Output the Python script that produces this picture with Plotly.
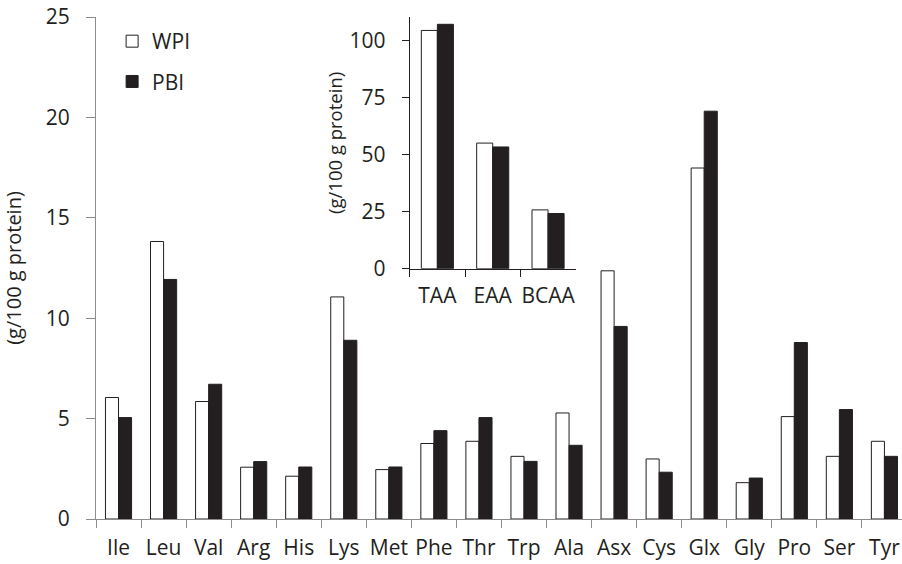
import plotly.graph_objects as go

amino = ["Ile", "Leu", "Val", "Arg", "His", "Lys", "Met", "Phe", "Thr", "Trp",
         "Ala", "Asx", "Cys", "Glx", "Gly", "Pro", "Ser", "Tyr"]
wpi = [6.05, 13.82, 5.85, 2.58, 2.13, 11.06, 2.46, 3.76, 3.87, 3.12,
       5.28, 12.36, 2.99, 17.48, 1.81, 5.10, 3.12, 3.87]
pbi = [5.05, 11.93, 6.71, 2.86, 2.59, 8.90, 2.59, 4.40, 5.05, 2.87,
       3.67, 9.59, 2.33, 20.31, 2.04, 8.79, 5.45, 3.12]

groups = ["TAA", "EAA", "BCAA"]
wpi_tot = [104.5, 55.1, 25.8]
pbi_tot = [107.2, 53.4, 24.2]

DARK = "#231f20"
GREY = "#8c8c8c"
FONT = "Open Sans"

fig = go.Figure()
fig.add_trace(go.Bar(x=amino, y=wpi, name="WPI", legendgroup="a",
                     marker=dict(color="white", line=dict(color=DARK, width=1))))
fig.add_trace(go.Bar(x=amino, y=pbi, name="PBI", legendgroup="b",
                     marker=dict(color=DARK, line=dict(color=DARK, width=1))))
fig.add_trace(go.Bar(x=groups, y=wpi_tot, showlegend=False, xaxis="x2", yaxis="y2",
                     marker=dict(color="white", line=dict(color=DARK, width=1))))
fig.add_trace(go.Bar(x=groups, y=pbi_tot, showlegend=False, xaxis="x2", yaxis="y2",
                     marker=dict(color=DARK, line=dict(color=DARK, width=1))))

fig.update_layout(
    width=902, height=564,
    margin=dict(l=96, r=0, t=17, b=45, autoexpand=False),
    paper_bgcolor="white", plot_bgcolor="rgba(0,0,0,0)",
    font=dict(family=FONT, size=21, color="#231f20"),
    barmode="group", bargap=0.42, bargroupgap=0,
    showlegend=True,
    legend=dict(x=0.02, y=0.992, xanchor="left", yanchor="top",
                bgcolor="rgba(0,0,0,0)", font=dict(size=21),
                traceorder="grouped", tracegroupgap=10,
                itemwidth=30),
    xaxis=dict(range=[-0.5, 17.39], showline=True, linecolor=GREY, linewidth=1,
               ticks="outside", tickson="boundaries", ticklen=8, tickcolor=GREY,
               showgrid=False, zeroline=False, tickfont=dict(size=21),
               tickangle=0, ticklabelstandoff=10, automargin=False,
               ticklabeloverflow="allow"),
    yaxis=dict(range=[0, 25], tickvals=[0, 5, 10, 15, 20, 25], showline=True,
               linecolor=GREY, linewidth=1, ticks="outside", ticklen=9,
               tickcolor=GREY, showgrid=False, zeroline=False,
               tickfont=dict(size=21), ticklabelstandoff=12, automargin=False,
               ticklabeloverflow="allow",
               title=dict(text="(g/100 g protein)", font=dict(size=20), standoff=22)),
    xaxis2=dict(domain=[0.3892, 0.5952], anchor="y2", showline=True, linecolor=DARK,
                linewidth=1, ticks="outside", tickson="boundaries", ticklen=7,
                tickcolor=DARK, showgrid=False, zeroline=False,
                tickfont=dict(size=21), tickangle=0, ticklabelstandoff=8,
                automargin=False, ticklabeloverflow="allow"),
    yaxis2=dict(domain=[0.4986, 1.0], anchor="x2", range=[0, 110.4],
                tickvals=[0, 25, 50, 75, 100], showline=True, linecolor=DARK,
                linewidth=1, ticks="outside", ticklen=7, tickcolor=DARK,
                showgrid=False, zeroline=False, tickfont=dict(size=21),
                ticklabelstandoff=12, automargin=False, ticklabeloverflow="allow",
                title=dict(text="(g/100 g protein)", font=dict(size=18.5), standoff=1)),
)

fig.write_html("out.html", config={"displayModeBar": False},
               post_script="document.body.style.margin='0';document.body.style.overflow='hidden';")
